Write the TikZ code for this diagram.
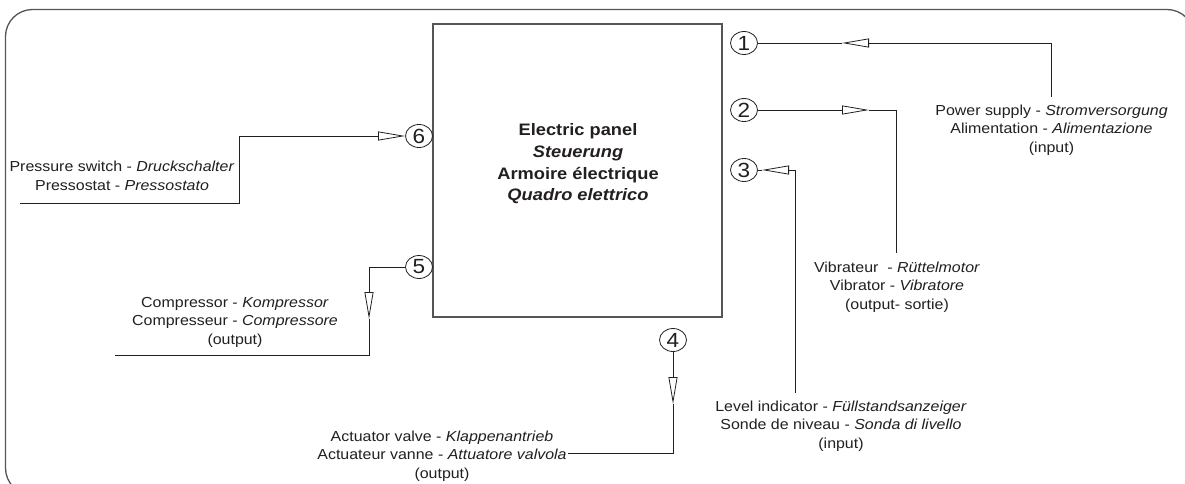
\documentclass[tikz,border=0pt]{standalone}
\usepackage{fontspec}
\setmainfont{Liberation Sans}[FakeStretch=1.1]
\usetikzlibrary{arrows.meta,shapes.geometric}
\definecolor{txt}{HTML}{231F20}
\definecolor{frm}{HTML}{555555}
\begin{document}
\begin{tikzpicture}[x=1pt,y=-1pt,
  lbl/.style={align=center, font=\fontsize{14.5}{18.5}\selectfont, text=txt, inner sep=0pt},
  boxtext/.style={align=center, font=\fontsize{16.6}{21.7}\selectfont\bfseries, text=txt, inner sep=0pt},
  num/.style={ellipse, draw=txt, line width=0.8pt, minimum width=27pt, minimum height=23pt, inner sep=0pt, font=\fontsize{20.5}{20.5}\selectfont, text=txt},
  wire/.style={draw=txt, line width=0.8pt},
  tri/.style={-{Triangle[length=27pt,width=9pt,fill=white]}}]
\useasboundingbox (0,0) rectangle (1185,484);
\clip (0,0) rectangle (1185,484);
\fill[white] (0,0) rectangle (1185,484);
% outer frame
\draw[draw=frm, line width=1.3pt, rounded corners=27pt] (5.5,9.5) rectangle (1194,495);
% panel
\node[draw=frm, line width=1.2pt, minimum width=289pt, minimum height=293pt, inner sep=0pt] (panel) at (577.5,170.5) {};
\node[boxtext] (ptxt) at (578,164) {Electric panel\\\textit{Steuerung}\\Armoire électrique\\\textit{Quadro elettrico}};
% numbered terminals
\node[num] (c1) at (744,43) {1};
\node[num] (c2) at (744,110) {2};
\node[num] (c3) at (744,170) {3};
\node[num] (c4) at (673,340) {4};
\node[num] (c5) at (419,267) {5};
\node[num] (c6) at (419,136) {6};
% labels
\node[lbl] (power) at (1051.5,130) {Power supply - \textit{Stromversorgung}\\Alimentation - \textit{Alimentazione}\\(input)};
\node[lbl] (vib) at (897,287) {Vibrateur~ - \textit{Rüttelmotor}\\Vibrator - \textit{Vibratore}\\(output- sortie)};
\node[lbl] (level) at (841,426) {Level indicator - \textit{Füllstandsanzeiger}\\Sonde de niveau - \textit{Sonda di livello}\\(input)};
\node[lbl] (act) at (442,456) {Actuator valve - \textit{Klappenantrieb}\\Actuateur vanne - \textit{Attuatore valvola}\\(output)};
\node[lbl] (comp) at (235,322) {Compressor - \textit{Kompressor}\\Compresseur - \textit{Compressore}\\(output)};
\node[lbl] (press) at (122,176) {Pressure switch - \textit{Druckschalter}\\Pressostat - \textit{Pressostato}};
% wire coordinates
\coordinate (p1) at (1051,97);
\coordinate (a1) at (842,43);
\coordinate (a2) at (869,110);
\coordinate (p2) at (896,253);
\coordinate (p3) at (795,393);
\coordinate (a3) at (762,170);
\coordinate (a4) at (673,404);
\coordinate (p4) at (568,453);
\coordinate (a5) at (369,319);
\coordinate (p5) at (115,355);
\coordinate (p6) at (20,203);
\coordinate (k6) at (239,136);
% connectors
\draw[wire,tri] (p1) |- (a1);
\draw[wire] (a1) -- (c1.east);
\draw[wire,tri] (c2.east) -- (a2);
\draw[wire] (a2) -| (p2);
\draw[wire,tri] (p3) |- (a3);
\draw[wire] (a3) -- (c3.east);
\draw[wire,tri] (c4.south) -- (a4);
\draw[wire] (a4) |- (p4);
\draw[wire,tri] (c5.west) -| (a5);
\draw[wire] (a5) |- (p5);
\draw[wire,tri] (p6) -| (k6) -- (c6.west);
\end{tikzpicture}
\end{document}
